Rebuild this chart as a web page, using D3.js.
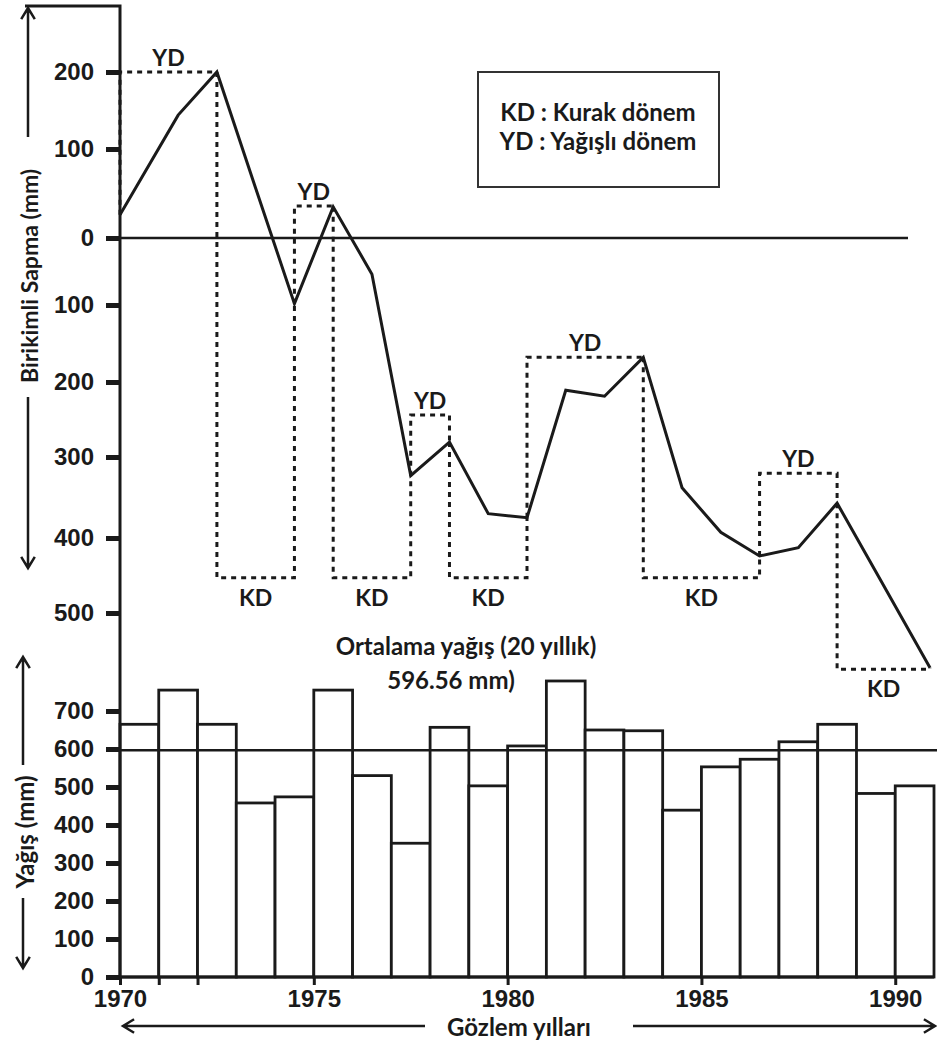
<!DOCTYPE html>
<html>
<head>
<meta charset="utf-8">
<script src="https://cdnjs.cloudflare.com/ajax/libs/d3/7.8.5/d3.min.js"></script>
<style>
  body { margin: 0; background: #fff; }
  svg { display: block; font-family: Lato, "Open Sans", sans-serif; font-weight: bold; }
  .tick text { fill: #1a1a1a; }
</style>
</head>
<body>
<div id="chart"></div>
<script>
// --- data ---
var years = [1970, 1971, 1972, 1973, 1974, 1975, 1976, 1977, 1978, 1979, 1980,
             1981, 1982, 1983, 1984, 1985, 1986, 1987, 1988, 1989, 1990];
var rainfall = [665, 755, 665, 458, 474, 755, 530, 352, 657, 503, 608,
                779, 650, 648, 439, 553, 573, 619, 665, 483, 503];
var meanRain = 596.56;
var cumDev = [26, 144, 200, 56, -98, 35, -54, -323, -280, -370, -375,
              -211, -219, -168, -338, -393, -424, -413, -357, -445, -573];

// wet (YD) / dry (KD) periods
var periodType  = ["YD", "KD", "YD", "KD", "YD", "KD", "YD", "KD", "YD", "KD"];
var periodStart = [1970, 1972, 1974, 1975, 1977, 1978, 1980, 1983, 1986, 1988];
var periodEnd   = [1972, 1974, 1975, 1977, 1978, 1980, 1983, 1986, 1988, 1990];
var periodLevel = [200, -453, 36, -453, -244, -453, -168, -453, -320, -575];

var devTicks = [200, 100, 0, -100, -200, -300, -400, -500];
var rainTicks = [0, 100, 200, 300, 400, 500, 600, 700];
var yearTicks = [1970, 1971, 1972, 1975, 1980, 1985, 1990];

var width = 937, height = 1046, ink = "#1a1a1a";

var svg = d3.select("#chart").append("svg")
    .attr("width", width)
    .attr("height", height);

// scales (hand drawn original: upper axis spacing is uneven)
var x = d3.scaleBand().domain(years).range([120, 934]);
var xYear = d3.scaleLinear().domain([1970, 1991]).range([120, 934]);
var yDev = d3.scaleLinear().domain(devTicks).range([72, 149, 238, 305, 382, 457, 538, 613]);
var yRain = d3.scaleLinear().domain([0, 700]).range([977, 711]);

function lineX(d, i) {
  if (i === 0) return x.range()[0];
  if (i === years.length - 1) return x.range()[1] - 4;
  return x(years[i]) + x.bandwidth() / 2;
}
function devX(year) { return lineX(null, years.indexOf(year)); }
function devAt(year) { return cumDev[years.indexOf(year)]; }

// bars
svg.append("g").selectAll(".bar")
    .data(rainfall)
    .enter().append("rect")
      .attr("class", "bar")
      .attr("x", function(d, i) { return x(years[i]); })
      .attr("y", function(d) { return yRain(d); })
      .attr("width", x.bandwidth())
      .attr("height", function(d) { return yRain(0) - yRain(d); })
      .attr("fill", "#fff")
      .attr("stroke", ink)
      .attr("stroke-width", 2.8);

// mean rainfall line
svg.append("line")
    .attr("x1", 120).attr("x2", 937)
    .attr("y1", yRain(meanRain)).attr("y2", yRain(meanRain))
    .attr("stroke", ink).attr("stroke-width", 2.5);

svg.append("text").attr("x", 466).attr("y", 655).attr("text-anchor", "middle")
    .attr("font-size", 24).attr("fill", ink).text("Ortalama yağış (20 yıllık)");
svg.append("text").attr("x", 451).attr("y", 689).attr("text-anchor", "middle")
    .attr("font-size", 24).attr("fill", ink).text(meanRain + " mm)");

// zero line of cumulative deviation
svg.append("line")
    .attr("x1", 120).attr("x2", 908)
    .attr("y1", yDev(0)).attr("y2", yDev(0))
    .attr("stroke", ink).attr("stroke-width", 2.5);

// dashed period boxes
var periods = periodType.map(function(t, i) {
  return { type: t, start: periodStart[i], end: periodEnd[i], level: periodLevel[i] };
});

svg.append("g").selectAll(".period")
    .data(periods)
    .enter().append("path")
      .attr("class", "period")
      .attr("d", function(d) {
        var p = d3.path();
        p.moveTo(devX(d.start), yDev(devAt(d.start)));
        p.lineTo(devX(d.start), yDev(d.level));
        p.lineTo(devX(d.end), yDev(d.level));
        p.lineTo(devX(d.end), yDev(devAt(d.end)));
        return p.toString();
      })
      .attr("fill", "none")
      .attr("stroke", ink)
      .attr("stroke-width", 3)
      .attr("stroke-dasharray", "5,5");

svg.append("g").selectAll(".plabel")
    .data(periods)
    .enter().append("text")
      .attr("class", "plabel")
      .attr("x", function(d) { return (devX(d.start) + devX(d.end)) / 2; })
      .attr("y", function(d) { return d.type === "YD" ? yDev(d.level) - 6 : yDev(d.level) + 28; })
      .attr("text-anchor", "middle")
      .attr("font-size", 23)
      .attr("fill", ink)
      .text(function(d) { return d.type; });

// cumulative deviation line
var line = d3.line()
    .x(lineX)
    .y(function(d) { return yDev(d); });

svg.append("path")
    .datum(cumDev)
    .attr("d", line)
    .attr("fill", "none")
    .attr("stroke", ink)
    .attr("stroke-width", 3)
    .attr("stroke-linejoin", "miter");

// axes
var devAxis = svg.append("g")
    .attr("transform", "translate(120,0)")
    .call(d3.axisLeft(yDev).tickValues(devTicks).tickSize(14).tickPadding(12)
      .tickFormat(function(d) { return Math.abs(d); }));

var rainAxis = svg.append("g")
    .attr("transform", "translate(120,0)")
    .call(d3.axisLeft(yRain).tickValues(rainTicks).tickSize(14).tickPadding(12));

var yearAxis = svg.append("g")
    .attr("transform", "translate(0," + yRain(0) + ")")
    .call(d3.axisBottom(xYear).tickValues(yearTicks).tickSize(8).tickPadding(5)
      .tickFormat(function(d) { return d % 5 === 0 ? d : ""; }));

[devAxis, rainAxis].forEach(function(a) {
  a.select(".domain").remove();
  a.selectAll(".tick line").attr("stroke", ink).attr("stroke-width", 5);
  a.selectAll(".tick text").attr("font-size", 24).attr("font-family", null);
});
yearAxis.select(".domain").remove();
yearAxis.selectAll(".tick line").attr("stroke", ink).attr("stroke-width", 3);
yearAxis.selectAll(".tick text").attr("font-size", 24).attr("font-family", null);

// main vertical axis + top cap
svg.append("path")
    .attr("d", "M25,6H120V" + yRain(0) + "H934")
    .attr("fill", "none")
    .attr("stroke", ink)
    .attr("stroke-width", 3);

// legend
svg.append("rect")
    .attr("x", 478).attr("y", 72).attr("width", 241).attr("height", 115)
    .attr("fill", "#fff").attr("stroke", "#333").attr("stroke-width", 2);
svg.append("text").attr("x", 598).attr("y", 121).attr("text-anchor", "middle")
    .attr("font-size", 24).attr("fill", ink).text("KD : Kurak dönem");
svg.append("text").attr("x", 598).attr("y", 150).attr("text-anchor", "middle")
    .attr("font-size", 24).attr("fill", ink).text("YD : Yağışlı dönem");

// arrows and axis titles
function arrow(x1, y1, x2, y2) {
  var a = Math.atan2(y2 - y1, x2 - x1), h = 13, w = 0.55;
  var p = d3.path();
  p.moveTo(x1, y1);
  p.lineTo(x2, y2);
  p.moveTo(x2 - h * Math.cos(a - w), y2 - h * Math.sin(a - w));
  p.lineTo(x2, y2);
  p.lineTo(x2 - h * Math.cos(a + w), y2 - h * Math.sin(a + w));
  svg.append("path").attr("d", p.toString())
      .attr("fill", "none").attr("stroke", ink).attr("stroke-width", 2.5);
}

arrow(28, 137, 28, 8);
arrow(28, 397, 28, 568);
svg.append("text")
    .attr("transform", "translate(29,276) rotate(-90)")
    .attr("text-anchor", "middle")
    .attr("dominant-baseline", "central")
    .attr("font-size", 23).attr("fill", ink)
    .text("Birikimli Sapma (mm)");

arrow(23, 765, 23, 657);
arrow(23, 898, 23, 968);
svg.append("text")
    .attr("transform", "translate(24,832) rotate(-90)")
    .attr("text-anchor", "middle")
    .attr("dominant-baseline", "central")
    .attr("font-size", 24).attr("fill", ink)
    .text("Yağış (mm)");

arrow(425, 1026, 123, 1026);
arrow(633, 1026, 935, 1026);
svg.append("text")
    .attr("x", 519).attr("y", 1036).attr("text-anchor", "middle")
    .attr("font-size", 24).attr("fill", ink)
    .text("Gözlem yılları");
</script>
</body>
</html>
